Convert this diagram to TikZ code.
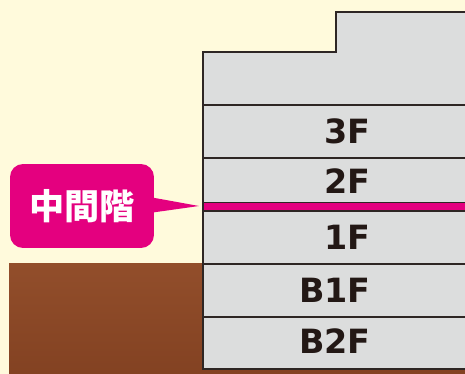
\documentclass[tikz,border=0pt]{standalone}
\usepackage{fontspec}
\usepackage{tikz}
\usetikzlibrary{positioning, calc}
\newfontfamily\floorfont{DejaVu Sans}
\newfontfamily\cjkfont{Noto Sans CJK JP}
\definecolor{cream}{HTML}{FFFADC}
\definecolor{wallgray}{HTML}{DCDDDD}
\definecolor{edgedark}{HTML}{2E2624}
\definecolor{inkdark}{HTML}{231815}
\definecolor{midpink}{HTML}{E4007F}
\definecolor{groundtop}{HTML}{924E2B}
\definecolor{groundbottom}{HTML}{834222}
\tikzstyle{building} = [draw=edgedark, line width=0.9pt, line join=miter]
\tikzstyle{floorline} = [draw=edgedark, line width=0.9pt]
\tikzstyle{floorlabel} = [anchor=east, inner sep=0pt, text=inkdark, font=\floorfont\bfseries\fontsize{19}{20}\selectfont]
\tikzstyle{callout} = [rectangle, rounded corners=0.26cm, minimum width=2.88cm, minimum height=1.68cm, fill=midpink, text=white, font=\cjkfont\bfseries\fontsize{20}{22}\selectfont]

\begin{document}
\begin{tikzpicture}[x=0.02cm, y=-0.02cm]

% Background
\fill[cream] (0,0) rectangle (465,374);
\useasboundingbox (0,0) rectangle (465,374);

% Ground
\shade[top color=groundtop, bottom color=groundbottom] (9,263) rectangle (470,374);

% Building
\fill[wallgray] (470,369) -- (203,369) -- (203,52) -- (336,52) -- (336,12) -- (470,12) -- cycle;
\foreach \y in {105,158,264,317}
  \draw[floorline] (203,\y) -- (470,\y);

% Intermediate floor
\fill[midpink] (203,202.3) rectangle (470,211);
\draw[edgedark, line width=0.6pt] (203,202.3) -- (470,202.3);
\draw[edgedark, line width=1.1pt] (203,211) -- (470,211);
\draw[building] (470,369) -- (203,369) -- (203,52) -- (336,52) -- (336,12) -- (470,12);

% Floor labels
\node (l3f) [floorlabel] at (371,131) {3F};
\node (l2f) [floorlabel] at (371,181) {2F};
\node (l1f) [floorlabel] at (371,237) {1F};
\node (lb1f) [floorlabel] at (371,290) {B1F};
\node (lb2f) [floorlabel] at (371,341) {B2F};

% Callout
\node (note) [callout] at (82,206) {中間階};
\coordinate (tip) at (199,206);
\fill[midpink] ([xshift=-0.1cm, yshift=0.18cm]note.east) -- (tip) -- ([xshift=-0.1cm, yshift=-0.14cm]note.east) -- cycle;

\end{tikzpicture}
\end{document}
